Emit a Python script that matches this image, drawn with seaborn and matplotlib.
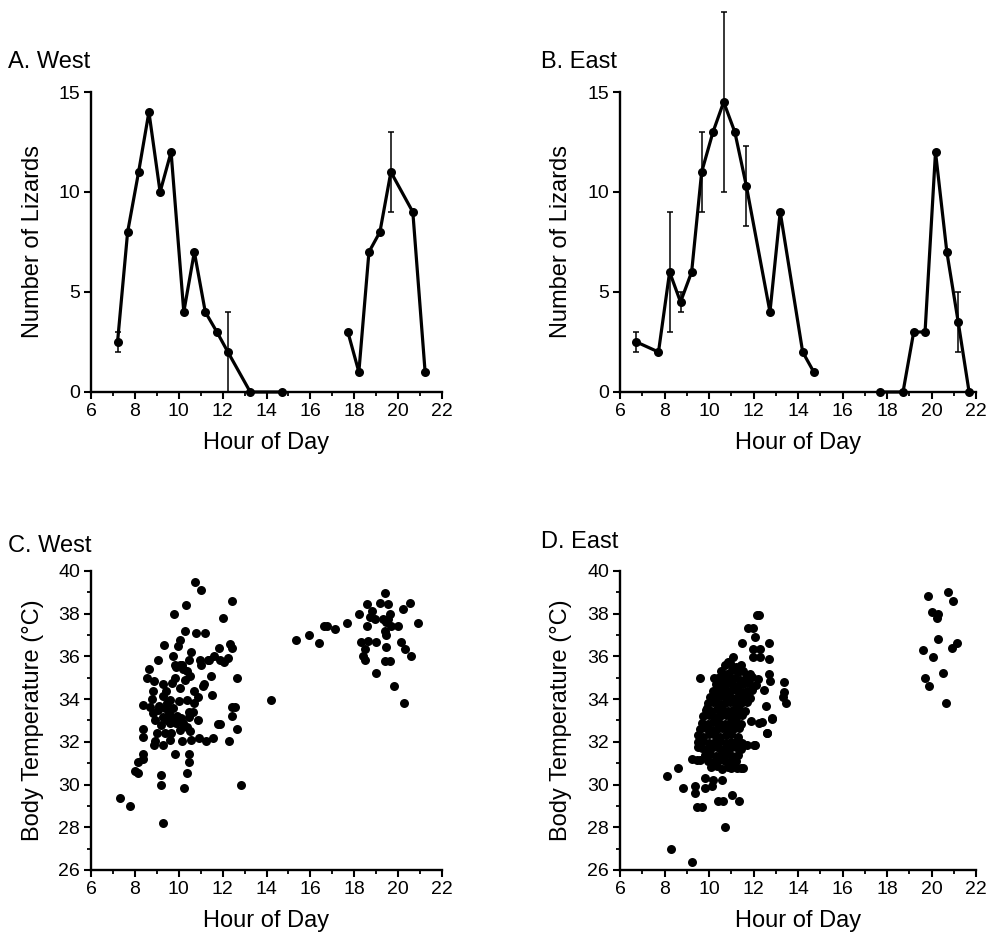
import matplotlib
matplotlib.use("Agg")
import matplotlib.pyplot as plt
import pandas as pd
import seaborn as sns
from matplotlib.ticker import MultipleLocator

# A. West: number of lizards seen per census (morning and evening bouts)
west_hour = [7.21, 7.67, 8.17, 8.64, 9.15, 9.65, 10.23, 10.71, 11.21, 11.74, 12.24, 13.26, 14.70,
             17.71, 18.21, 18.67, 19.17, 19.67, 20.67, 21.23]
west_count = [2.5, 8, 11, 14, 10, 12, 4, 7, 4, 3, 2, 0, 0,
              3, 1, 7, 8, 11, 9, 1]
west_bout = [0] * 13 + [1] * 7
west_err_hour = [7.21, 12.24, 19.67]
west_err_mean = [2.5, 2, 11]
west_err = [0.5, 2, 2]

# B. East
east_hour = [6.74, 7.73, 8.23, 8.72, 9.22, 9.67, 10.18, 10.66, 11.16, 11.68, 12.74, 13.20, 14.21, 14.71,
             17.70, 18.72, 19.20, 19.71, 20.18, 20.69, 21.20, 21.69]
east_count = [2.5, 2, 6, 4.5, 6, 11, 13, 14.5, 13, 10.3, 4, 9, 2, 1,
              0, 0, 3, 3, 12, 7, 3.5, 0]
east_bout = [0] * 14 + [1] * 8
east_err_hour = [6.74, 8.23, 8.72, 9.67, 10.66, 11.68, 21.20]
east_err_mean = [2.5, 6, 4.5, 11, 14.5, 10.3, 3.5]
east_err = [0.5, 3, 0.5, 2, 4.5, 2, 1.5]

# C. West: body temperature vs hour
west_tb_hour = [
    10.72, 11.02, 10.34, 12.41, 9.80, 12.00, 10.28, 10.78, 11.19, 10.05, 9.35, 9.95, 10.58, 11.82,
    12.35, 12.41, 9.75, 9.04, 10.49, 10.95, 11.32, 11.62, 12.23, 12.08, 9.81, 10.04, 10.19, 9.88,
    10.15, 10.37, 8.65, 8.55, 8.86, 9.81, 9.69, 11.47, 12.66, 11.17, 8.83, 9.44, 10.04, 10.69,
    10.87, 10.37, 11.50, 9.29, 9.59, 8.80, 8.35, 8.68, 9.06, 9.36, 9.54, 9.66, 9.29, 8.91,
    8.83, 10.49, 10.67, 10.49, 12.41, 12.57, 12.44, 9.59, 9.89, 10.19, 10.37, 11.77, 11.88, 12.66,
    8.38, 8.38, 9.36, 9.66, 10.04, 10.52, 8.91, 9.26, 9.62, 10.14, 10.57, 10.91, 11.22, 11.55,
    12.29, 8.86, 8.38, 8.38, 8.12, 9.84, 10.46, 10.49, 8.00, 8.15, 9.21, 9.21, 10.39, 10.22,
    12.86, 7.32, 7.78, 9.29,
    9.10, 9.45, 9.75, 9.90, 10.10, 9.20, 9.45, 10.70, 10.30, 10.50, 11.00, 11.40, 11.90, 9.30,
    10.90, 11.10, 9.00, 10.00,
    14.22, 15.35, 15.95, 16.41, 16.60, 16.75, 17.13, 17.69, 18.21, 18.56, 18.79, 18.94, 18.56,
    19.39, 19.17, 19.54, 19.62, 19.47, 19.69, 19.99, 19.39, 19.47, 20.22, 20.52, 20.90, 18.33,
    18.64, 18.49, 19.01, 19.44, 20.12, 20.30, 18.41, 18.49, 19.39, 19.62, 20.60, 18.98, 19.81,
    20.27, 18.70, 19.30, 19.55,
]
west_tb_temp = [
    39.50, 39.10, 38.43, 38.60, 37.98, 37.80, 37.21, 37.09, 37.09, 36.79, 36.53, 36.50, 36.23, 36.40,
    36.56, 36.40, 36.00, 35.81, 35.81, 35.81, 35.84, 36.00, 35.94, 35.74, 35.58, 35.58, 35.43, 35.52,
    35.60, 35.30, 35.40, 34.99, 34.84, 35.01, 34.76, 35.10, 34.99, 34.71, 34.39, 34.39, 34.54, 34.39,
    34.11, 33.98, 34.20, 34.14, 33.95, 33.99, 33.72, 33.61, 33.49, 33.57, 33.33, 33.18, 33.18, 33.02,
    33.33, 33.41, 33.41, 33.18, 33.61, 33.61, 33.21, 32.90, 32.90, 32.87, 32.71, 32.82, 32.82, 32.59,
    32.59, 32.22, 32.43, 32.40, 32.56, 32.53, 32.02, 31.86, 32.09, 32.06, 32.09, 32.17, 32.06, 32.20,
    32.05, 31.86, 31.44, 31.19, 31.04, 31.43, 31.43, 31.05, 30.62, 30.54, 30.43, 30.00, 30.54, 29.86,
    30.00, 29.38, 28.99, 28.22,
    33.70, 33.80, 33.60, 33.20, 33.10, 32.80, 33.00, 33.80, 34.90, 35.10, 35.60, 35.85, 35.85, 34.70,
    33.00, 34.60, 32.40, 33.90,
    33.98, 36.79, 37.02, 36.64, 37.41, 37.41, 37.29, 37.58, 37.98, 38.45, 38.14, 37.75, 37.44,
    38.99, 38.50, 38.45, 37.98, 37.60, 37.44, 37.44, 37.21, 36.98, 38.22, 38.50, 37.55, 36.67,
    36.74, 36.36, 36.67, 36.43, 36.67, 36.36, 36.00, 35.81, 35.78, 35.78, 36.00, 35.24, 34.60,
    33.83, 37.85, 37.75, 37.75,
]

# D. East
east_tb_hour = [
    # outlying points
    8.12, 8.27, 9.25, 8.62, 8.81, 9.22, 9.44, 9.37, 9.37, 9.44, 9.70, 10.72, 9.82, 10.12,
    10.60, 10.42, 10.64, 11.02, 11.34, 9.52, 9.59, 9.89, 10.22, 10.45, 10.31, 10.67,
    12.24, 12.14, 11.76, 11.96, 12.06, 11.49, 12.71, 11.99, 12.29, 11.99, 12.29, 12.71, 11.09,
    10.87, 12.71, 12.74, 13.37, 13.37, 13.34, 13.44, 12.47, 12.81, 11.91, 12.24, 12.59, 12.54,
    12.06, 11.46, 11.24, 11.00, 12.37, 12.82, 12.59, 11.70, 12.00, 11.54, 9.60, 9.82, 10.20,
    # dense cloud, row by row
    10.70, 10.95, 11.20, 11.45,
    10.55, 10.80, 11.05, 11.30, 11.55, 11.85,
    10.40, 10.65, 10.90, 11.15, 11.40, 11.65, 11.95, 12.20,
    10.30, 10.55, 10.80, 11.05, 11.30, 11.55, 11.80, 12.10,
    10.20, 10.45, 10.70, 10.95, 11.20, 11.45, 11.70, 11.95,
    10.05, 10.30, 10.55, 10.80, 11.05, 11.30, 11.55, 11.85,
    9.95, 10.20, 10.45, 10.70, 10.95, 11.20, 11.45, 11.70,
    9.85, 10.10, 10.35, 10.60, 10.85, 11.10, 11.35, 11.60,
    9.75, 10.00, 10.25, 10.50, 10.75, 11.00, 11.25, 11.50,
    9.70, 9.95, 10.20, 10.45, 10.70, 10.95, 11.20, 11.45,
    9.60, 9.85, 10.10, 10.35, 10.60, 10.85, 11.10, 11.35,
    9.50, 9.75, 10.00, 10.25, 10.50, 10.75, 11.00, 11.30,
    9.50, 9.75, 10.00, 10.25, 10.50, 10.75, 11.00, 11.25, 11.50,
    9.70, 9.95, 10.20, 10.45, 10.70, 10.95, 11.20, 11.45,
    9.80, 10.05, 10.30, 10.55, 10.80, 11.05, 11.30,
    9.95, 10.20, 10.45, 10.70, 10.95, 11.20,
    10.10, 10.35, 10.60, 10.85, 11.10,
    # evening group
    19.85, 20.72, 20.95, 20.03, 20.30, 20.23, 20.27, 21.13, 20.90, 19.60, 20.05, 20.53, 19.70,
    19.90, 20.65,
]
east_tb_temp = [
    30.38, 26.98, 26.36, 30.77, 29.83, 31.20, 31.16, 29.91, 29.60, 28.94, 28.97, 27.99, 30.30, 29.91,
    30.22, 29.21, 29.21, 29.52, 29.21, 31.78, 35.00, 33.57, 35.00, 35.00, 34.38, 34.58,
    37.96, 37.96, 37.35, 37.31, 36.92, 36.64, 36.64, 36.37, 36.37, 35.98, 35.98, 35.90, 35.98,
    35.75, 35.20, 34.85, 34.82, 34.35, 34.11, 33.80, 34.43, 33.07, 32.98, 32.87, 32.40, 33.68,
    31.86, 30.77, 30.77, 30.77, 32.94, 33.10, 32.43, 31.85, 31.85, 30.76, 31.15, 29.83, 30.22,
    35.60, 35.70, 35.50, 35.60,
    35.30, 35.20, 35.35, 35.25, 35.30, 35.20,
    35.00, 34.95, 35.05, 35.00, 34.90, 35.00, 35.05, 34.95,
    34.70, 34.65, 34.75, 34.70, 34.60, 34.70, 34.75, 34.65,
    34.40, 34.45, 34.35, 34.40, 34.45, 34.35, 34.40, 34.45,
    34.10, 34.05, 34.15, 34.10, 34.05, 34.10, 34.15, 34.05,
    33.80, 33.85, 33.75, 33.80, 33.85, 33.75, 33.80, 33.85,
    33.50, 33.45, 33.55, 33.50, 33.45, 33.50, 33.55, 33.45,
    33.20, 33.25, 33.15, 33.20, 33.25, 33.15, 33.20, 33.25,
    32.90, 32.85, 32.95, 32.90, 32.85, 32.90, 32.95, 32.85,
    32.60, 32.65, 32.55, 32.60, 32.65, 32.55, 32.60, 32.65,
    32.30, 32.25, 32.35, 32.30, 32.25, 32.30, 32.35, 32.25,
    32.00, 32.05, 31.95, 32.00, 32.05, 31.95, 32.00, 32.05, 31.95,
    31.70, 31.65, 31.75, 31.70, 31.65, 31.70, 31.75, 31.65,
    31.40, 31.45, 31.35, 31.40, 31.45, 31.35, 31.40,
    31.10, 31.05, 31.15, 31.10, 31.05, 31.10,
    30.80, 30.85, 30.75, 30.80, 30.85,
    38.82, 39.02, 38.60, 38.09, 37.98, 37.78, 36.80, 36.64, 36.41, 36.30, 35.99, 35.21, 34.97,
    34.62, 33.81,
]

sns.set_style("ticks")
plt.rcParams["font.family"] = ["Liberation Sans", "DejaVu Sans"]
plt.rcParams.update({
    "text.color": "black",
    "axes.labelcolor": "black",
    "axes.edgecolor": "black",
    "xtick.color": "black",
    "ytick.color": "black",
})

fig = plt.figure(figsize=(9.89, 9.41), dpi=100)
W, H = 989, 941


def add_ax(x0, x1, y0, y1):
    return fig.add_axes([x0 / W, 1 - y1 / H, (x1 - x0) / W, (y1 - y0) / H])


ax_a = add_ax(91, 442, 92, 392)
ax_b = add_ax(620, 976, 92, 392)
ax_c = add_ax(91, 442, 571, 870)
ax_d = add_ax(620, 976, 571, 870)


def count_panel(ax, hour, count, bout, eh, em, ee):
    df = pd.DataFrame({"hour": hour, "count": count, "bout": bout})
    sns.lineplot(data=df, x="hour", y="count", units="bout", estimator=None, sort=False,
                 color="black", lw=2.3, marker="o", markersize=6.5, markeredgewidth=0,
                 ax=ax, clip_on=False)
    ax.errorbar(eh, em, yerr=ee, fmt="none", ecolor="black", elinewidth=1.1,
                capsize=2.5, capthick=1.1, clip_on=False)
    ax.set_xlim(6, 22)
    ax.set_ylim(0, 15)
    ax.set_yticks([0, 5, 10, 15])
    ax.set_ylabel("Number of Lizards", fontsize=17)


def temp_panel(ax, hour, temp):
    df = pd.DataFrame({"hour": hour, "temp": temp})
    sns.scatterplot(data=df, x="hour", y="temp", color="black", s=42, linewidth=0, ax=ax)
    ax.set_xlim(6, 22)
    ax.set_ylim(26, 40)
    ax.yaxis.set_major_locator(MultipleLocator(2))
    ax.yaxis.set_minor_locator(MultipleLocator(1))
    ax.set_ylabel("Body Temperature (°C)", fontsize=17)


count_panel(ax_a, west_hour, west_count, west_bout, west_err_hour, west_err_mean, west_err)
count_panel(ax_b, east_hour, east_count, east_bout, east_err_hour, east_err_mean, east_err)
temp_panel(ax_c, west_tb_hour, west_tb_temp)
temp_panel(ax_d, east_tb_hour, east_tb_temp)

for ax in (ax_a, ax_b, ax_c, ax_d):
    sns.despine(ax=ax)
    ax.xaxis.set_major_locator(MultipleLocator(2))
    ax.xaxis.set_minor_locator(MultipleLocator(1))
    ax.set_xlabel("Hour of Day", fontsize=17)
    for side in ("left", "bottom"):
        ax.spines[side].set_linewidth(1.7)
    ax.tick_params(which="major", direction="out", length=5, width=1.5, labelsize=14, pad=3)
    ax.tick_params(which="minor", direction="out", length=3, width=1.3)
    ax.xaxis.set_label_coords(0.5, -0.135)
    ax.yaxis.set_label_coords(-0.135, 0.5)

fig.text(8 / W, 1 - 62 / H, "A. West", fontsize=17, va="center", ha="left")
fig.text(541 / W, 1 - 62 / H, "B. East", fontsize=17, va="center", ha="left")
fig.text(8 / W, 1 - 546 / H, "C. West", fontsize=17, va="center", ha="left")
fig.text(541 / W, 1 - 542 / H, "D. East", fontsize=17, va="center", ha="left")

fig.savefig("out.png", dpi=100)
